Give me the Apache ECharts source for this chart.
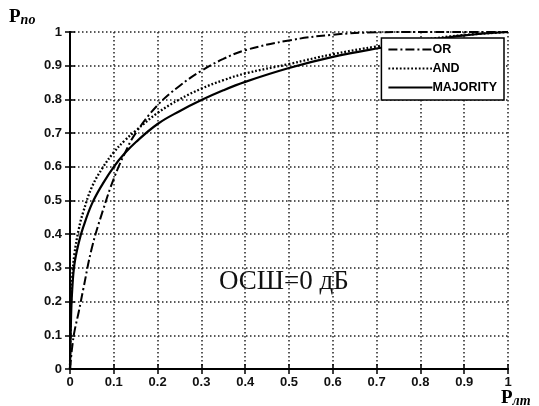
<!DOCTYPE html>
<html>
<head>
<meta charset="utf-8">
<script src="https://cdn.jsdelivr.net/npm/echarts@6/dist/echarts.min.js"></script>
<style>
  html, body { margin: 0; padding: 0; background: #fff; }
  #chart { width: 539px; height: 406px; }
</style>
</head>
<body>
<div id="chart"></div>
<script>
// false alarm probability (x) and detection probability for each fusion rule
var pfa      = [0, 0.0025, 0.005, 0.01, 0.02, 0.03, 0.05, 0.075, 0.1, 0.125, 0.15, 0.2, 0.25, 0.3, 0.35, 0.4, 0.5, 0.6, 0.7, 0.8, 0.9, 1];
var orRule   = [0, 0.035, 0.065, 0.11, 0.17, 0.235, 0.36, 0.47, 0.565, 0.64, 0.7, 0.783, 0.84, 0.885, 0.92, 0.946, 0.975, 0.992, 0.999, 1, 1, 1];
var andRule  = [0, 0.21, 0.27, 0.34, 0.415, 0.465, 0.54, 0.598, 0.643, 0.678, 0.707, 0.76, 0.8, 0.832, 0.857, 0.877, 0.905, 0.934, 0.957, 0.976, 0.991, 1];
var majority = [0, 0.16, 0.235, 0.31, 0.375, 0.42, 0.49, 0.55, 0.6, 0.64, 0.673, 0.727, 0.765, 0.798, 0.827, 0.852, 0.893, 0.926, 0.951, 0.972, 0.99, 1];
var tickLabels = ['0', '0.1', '0.2', '0.3', '0.4', '0.5', '0.6', '0.7', '0.8', '0.9', '1'];

function pairs(ys) {
  return pfa.map(function (x, i) { return [x, ys[i]]; });
}

var chart = echarts.init(document.getElementById('chart'));

var gridLine = { show: true, lineStyle: { color: '#222', width: 1.5, type: [1.5, 2.5] } };
var boxLine = { show: true, lineStyle: { color: '#000', width: 2 } };
var inTick = { show: true, inside: true, length: 5, lineStyle: { color: '#000', width: 1.5 } };
var labelFont = { color: '#111', fontFamily: 'Liberation Sans', fontWeight: 'bold', fontSize: 13 };
var tickFmt = function (v) { return tickLabels[Math.round(v * 10)]; };

var option = {
  animation: false,
  backgroundColor: '#fff',
  grid: { left: 70, right: 31, top: 32, bottom: 37, containLabel: false },
  legend: {
    data: ['OR', 'AND', 'MAJORITY'],
    orient: 'vertical',
    right: 35,
    top: 38,
    backgroundColor: '#fff',
    borderColor: '#000',
    borderWidth: 1.5,
    borderRadius: 0,
    padding: [5, 7, 6, 6],
    itemWidth: 44,
    itemHeight: 14,
    itemGap: 6,
    itemStyle: { opacity: 0 },
    textStyle: { color: '#000', fontFamily: 'Liberation Sans', fontWeight: 'bold', fontSize: 12.5, padding: [0, 0, 0, -5] }
  },
  xAxis: [{
    type: 'value', min: 0, max: 1, interval: 0.1,
    axisLine: boxLine, axisTick: inTick,
    axisLabel: Object.assign({ margin: 7, formatter: tickFmt }, labelFont),
    splitLine: gridLine
  }, {
    type: 'value', min: 0, max: 1, interval: 0.1, position: 'top',
    axisLine: boxLine, axisTick: inTick,
    axisLabel: { show: false }, splitLine: { show: false }
  }],
  yAxis: [{
    type: 'value', min: 0, max: 1, interval: 0.1,
    axisLine: boxLine, axisTick: inTick,
    axisLabel: Object.assign({ margin: 8, formatter: tickFmt }, labelFont),
    splitLine: gridLine
  }, {
    type: 'value', min: 0, max: 1, interval: 0.1, position: 'right',
    axisLine: boxLine, axisTick: inTick,
    axisLabel: { show: false }, splitLine: { show: false }
  }],
  graphic: [{
    type: 'text', left: 9, top: 8,
    style: {
      text: '{p|P}{s|по}',
      rich: {
        p: { fontFamily: 'Liberation Serif', fontWeight: 'bold', fontSize: 19, fill: '#000' },
        s: { fontFamily: 'Liberation Serif', fontWeight: 'bold', fontStyle: 'italic', fontSize: 14, fill: '#000', padding: [6, 0, 0, 0] }
      }
    }
  }, {
    type: 'text', left: 501, top: 389,
    style: {
      text: '{p|P}{s|лт}',
      rich: {
        p: { fontFamily: 'Liberation Serif', fontWeight: 'bold', fontSize: 19, fill: '#000' },
        s: { fontFamily: 'Liberation Serif', fontWeight: 'bold', fontStyle: 'italic', fontSize: 14, fill: '#000', padding: [6, 0, 0, 0] }
      }
    }
  }, {
    type: 'text', left: 219, top: 268,
    style: { text: 'ОСШ=0 дБ', fontFamily: 'Liberation Serif', fontSize: 27, fill: '#111' }
  }],
  series: [{
    name: 'OR', type: 'line', data: pairs(orRule),
    showSymbol: false, symbol: 'none', smooth: 0.4,
    itemStyle: { color: '#000' },
    lineStyle: { color: '#000', width: 2, type: [9, 3, 2, 3] }, z: 3
  }, {
    name: 'AND', type: 'line', data: pairs(andRule),
    showSymbol: false, symbol: 'none', smooth: 0.4,
    itemStyle: { color: '#000' },
    lineStyle: { color: '#000', width: 2.3, type: [1.8, 2] }, z: 3
  }, {
    name: 'MAJORITY', type: 'line', data: pairs(majority),
    showSymbol: false, symbol: 'none', smooth: 0.4,
    itemStyle: { color: '#000' },
    lineStyle: { color: '#000', width: 2.2, type: 'solid' }, z: 3
  }]
};

chart.setOption(option);
window.addEventListener('resize', function () { chart.resize(); });
</script>
</body>
</html>
